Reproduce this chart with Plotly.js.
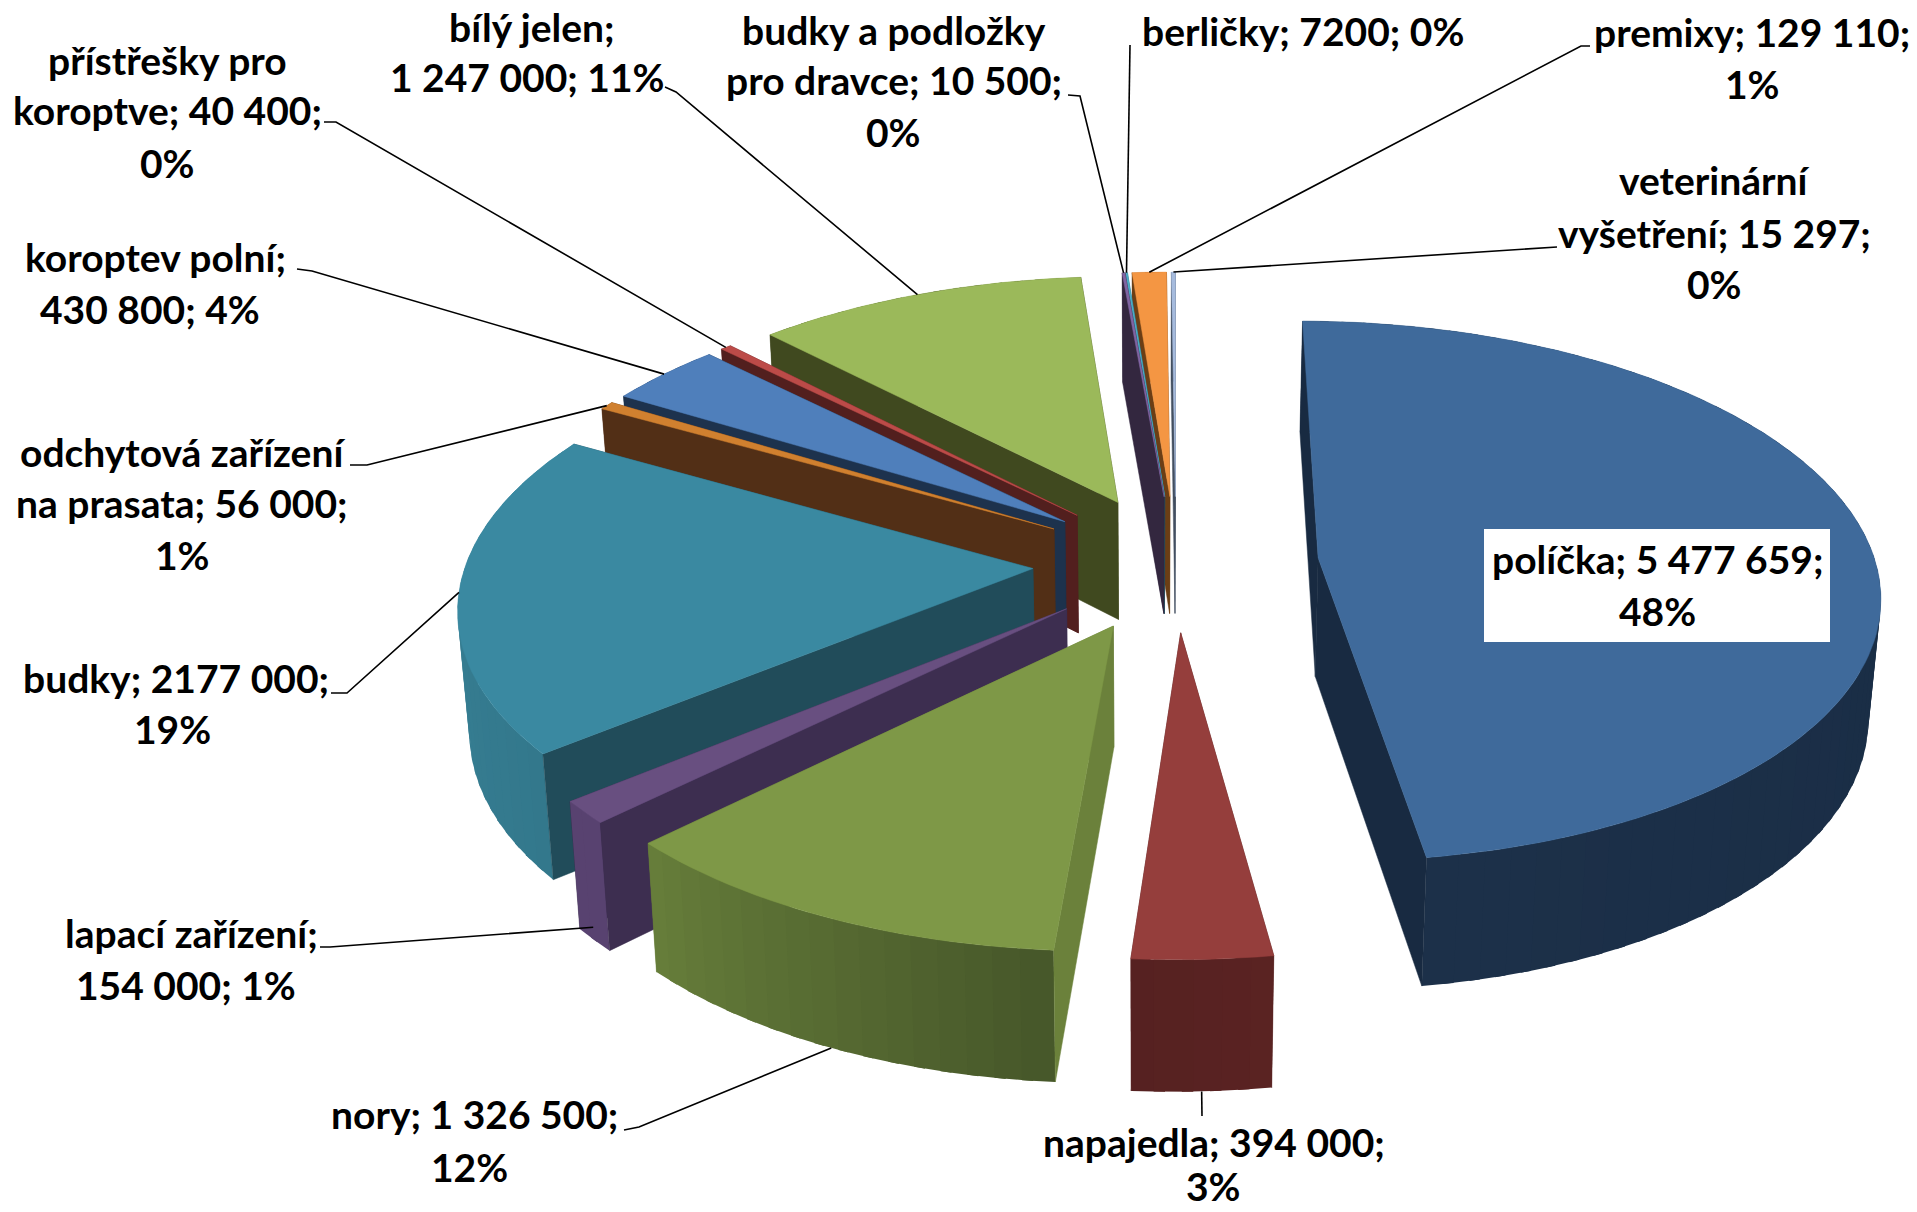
<!DOCTYPE html>
<html>
<head>
<meta charset="utf-8">
<script src="https://cdn.plot.ly/plotly-3.0.1.min.js"></script>
<style>html,body{margin:0;padding:0;background:#fff}</style>
</head>
<body>
<div id="chart" style="width:1917px;height:1212px"></div>
<script>
// ---------- data ----------
const categories = ["políčka","napajedla","nory","lapací zařízení","budky","odchytová zařízení na prasata","koroptev polní","přístřešky pro koroptve","bílý jelen","budky a podložky pro dravce","berličky","premixy","veterinární vyšetření"];
const values = [5477659,394000,1326500,154000,2177000,56000,430800,40400,1247000,10500,7200,129110,15297];

// ---------- label text, one list of lines per slice ----------
const labelLines = [
  ["políčka; 5 477 659;","48%"],
  ["napajedla; 394 000;","3%"],
  ["nory; 1 326 500;","12%"],
  ["lapací zařízení;","154 000; 1%"],
  ["budky; 2177 000;","19%"],
  ["odchytová zařízení","na prasata; 56 000;","1%"],
  ["koroptev polní;","430 800; 4%"],
  ["přístřešky pro","koroptve; 40 400;","0%"],
  ["bílý jelen;","1 247 000; 11%"],
  ["budky a podložky","pro dravce; 10 500;","0%"],
  ["berličky; 7200; 0%"],
  ["premixy; 129 110;","1%"],
  ["veterinární","vyšetření; 15 297;","0%"]
];
const labelPos = [
  [[1657,559],[1657,611]],
  [[1214,1142],[1213,1186]],
  [[474,1114],[469,1167]],
  [[191,933],[186,985]],
  [[176,678],[172,729]],
  [[182,452],[182,503],[182,555]],
  [[155,257],[150,309]],
  [[167,60],[167,110],[167,163]],
  [[532,27],[527,77]],
  [[894,30],[894,80],[893,132]],
  [[1303,31]],
  [[1752,32],[1752,84]],
  [[1714,180],[1714,233],[1714,284]]
];
// leader: label-side points, and how far down the wall (0 top..1 bottom) it touches the slice
const leaderStub = [
  null,
  [[1202,1116]],
  [[624,1130],[639,1127]],
  [[320,947],[330,947]],
  [[331,693],[347,693]],
  [[350,465],[367,465]],
  [[297,269],[312,271]],
  [[324,122],[336,122]],
  [[665,87],[676,92]],
  [[1068,95],[1080,96]],
  [[1130,45]],
  [[1590,46],[1581,46]],
  [[1557,247]]
];
const leaderDrop = [0,1,1,0.9,0,0,0,0,0,0,0,0,0];

// ---------- colours ----------
const topColors  = ["#3F6A9B","#953E3C","#7E9847","#684F80","#3A89A1","#D0802F","#4F7FBB","#BC4B48","#9BB95A","#8064A2","#4BACC6","#F49643","#A6BBDD"];
const cutColors  = ["#182A41","#552121","#6B813B","#3D2E50","#214C5A","#522F16","#1D324D","#521F1E","#40491F","#33273F","#1F5A68","#6B3E15","#434F60"];
const rimStart   = ["#172A41","#5A2322","#46572A","#584270","#33788C","#522F16","#1D324D","#521F1E","#40491F","#33273F","#1F5A68","#6B3E15","#434F60"];
const rimEnd     = ["#1C3049","#552121","#677E3A","#584270","#3A8499","#522F16","#1D324D","#521F1E","#40491F","#33273F","#1F5A68","#6B3E15","#434F60"];
const drawOrder  = [12,11,10,9,8,7,6,5,4,3,2,1,0];

// ---------- tilted, exploded pie: value -> angle -> page position ----------
const view = {cx:1176, cy:562.6, R:562, explode:143, tilt:0.476, p:0.00022, r:0.00001, height:119, vanishX:1150, shrink:0.983};
const total = values.reduce((a,b)=>a+b,0);
const rad = d => d*Math.PI/180;
let running = 0;
const slices = values.map(v => {
  const a0 = running/total*360; running += v; const a1 = running/total*360;
  return {a0, a1, mid:(a0+a1)/2};
});
function project(X, Y, drop){
  const s = 1/(1 + view.p*Y + view.r*X);
  const sx = view.cx + X*s;
  const sy = view.cy - view.tilt*Y*s;
  if(!drop) return [sx, sy];
  return [sx + drop*(view.vanishX + (sx-view.vanishX)*view.shrink - sx),
          sy + drop*view.height*(0.4+0.6*s)];
}
function pt(i, ang, rr, drop){
  const m = rad(slices[i].mid), a = rad(ang);
  return project(view.explode*Math.sin(m) + rr*Math.sin(a),
                 view.explode*Math.cos(m) + rr*Math.cos(a), drop);
}
function hex(c){return [1,3,5].map(k=>parseInt(c.substr(k,2),16));}
function mix(a,b,t){const A=hex(a),B=hex(b);return `rgb(${A.map((v,k)=>Math.round(v+(B[k]-v)*t)).join(",")})`;}

const traces = [];
function poly(points, color, name, lw){
  traces.push({type:"scatter", mode:"lines", x:points.map(p=>p[0]), y:points.map(p=>p[1]),
    fill:"toself", fillcolor:color, line:{color:color,width:lw===undefined?0.5:lw}, hoverinfo:"text", text:name, name:name});
}
function cutFace(i, ang){
  const R = view.R;
  return [pt(i,ang,0,0), pt(i,ang,R,0), pt(i,ang,R,1), pt(i,ang,0,1), pt(i,ang,0,0)];
}
function isFront(i, ang){
  const c = pt(i,ang,0,0), e = pt(i,ang,view.R,0), m = pt(i,slices[i].mid,view.R*0.6,0);
  const vx = e[0]-c[0], vy = e[1]-c[1];
  const side = vx*1;                      // cross(edge, straight down)
  const inner = vx*(m[1]-c[1]) - vy*(m[0]-c[0]);
  return side*inner < 0;
}
drawOrder.forEach(i => {
  const sl = slices[i], name = categories[i];
  const faces = [sl.a0, sl.a1];
  // hidden cut faces first
  faces.filter(a=>!isFront(i,a)).forEach(a=>poly(cutFace(i,a), cutColors[i], name));
  // curved outer wall, far part first; neighbouring strips overlap so no seams show
  const n = Math.max(1, Math.ceil((sl.a1-sl.a0)/2.5));
  const parts = [];
  for(let k=0;k<n;k++){
    const a = sl.a0+(sl.a1-sl.a0)*k/n, b = sl.a0+(sl.a1-sl.a0)*(k+1)/n;
    parts.push({a:Math.max(sl.a0,a-0.5),b:Math.min(sl.a1,b+0.5),t:(k+0.5)/n,depth:Math.cos(rad((a+b)/2))});
  }
  parts.sort((p,q)=>q.depth-p.depth).forEach(p=>{
    poly([pt(i,p.a,view.R,0),pt(i,p.b,view.R,0),pt(i,p.b,view.R,1),pt(i,p.a,view.R,1),pt(i,p.a,view.R,0)],
         mix(rimStart[i],rimEnd[i],p.t), name, 0);
  });
  // visible cut faces
  faces.filter(a=>isFront(i,a)).forEach(a=>poly(cutFace(i,a), cutColors[i], name));
  // top face
  const top = [pt(i,sl.a0,0,0)];
  const m = Math.max(2, Math.ceil((sl.a1-sl.a0)/1.5));
  for(let k=0;k<=m;k++) top.push(pt(i,sl.a0+(sl.a1-sl.a0)*k/m,view.R,0));
  top.push(pt(i,sl.a0,0,0));
  poly(top, topColors[i], name);
});

// leader lines
leaderStub.forEach((stub,i)=>{
  if(!stub) return;
  const end = pt(i,slices[i].mid,view.R,leaderDrop[i]);
  const line = stub.concat([end]);
  traces.push({type:"scatter",mode:"lines",x:line.map(p=>p[0]),y:line.map(p=>p[1]),
    line:{color:"#000",width:1.6},hoverinfo:"skip",showlegend:false});
});

// labels
const annotations = [];
labelLines.forEach((lines,i)=>lines.forEach((t,j)=>{
  annotations.push({x:labelPos[i][j][0],y:labelPos[i][j][1],xref:"x",yref:"y",text:"<b>"+t+"</b>",showarrow:false,
    xanchor:"center",yanchor:"middle",font:{family:"Lato, 'Open Sans', sans-serif",size:39,color:"#000"}});
}));

const layout = {
  width:1917,height:1212,margin:{l:0,r:0,t:0,b:0},paper_bgcolor:"#fff",plot_bgcolor:"#fff",showlegend:false,
  hovermode:"closest",
  xaxis:{range:[0,1917],visible:false,fixedrange:true},
  yaxis:{range:[1212,0],visible:false,fixedrange:true},
  shapes:[{type:"rect",xref:"x",yref:"y",x0:1484,x1:1830,y0:529,y1:642,fillcolor:"#fff",line:{width:0},layer:"above"}],
  annotations
};
Plotly.newPlot("chart",traces,layout,{displayModeBar:false,responsive:false});
</script>
</body>
</html>
